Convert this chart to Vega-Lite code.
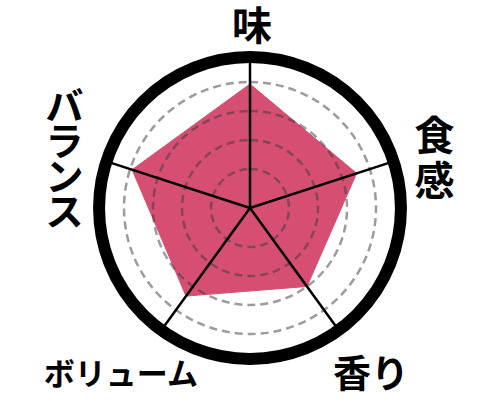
{
  "$schema": "https://vega.github.io/schema/vega-lite/v6.json",
  "width": 500,
  "height": 408,
  "autosize": {"type": "none"},
  "padding": 0,
  "background": "white",
  "datasets": {
    "scores": [
      {"axis": "味", "label": "味", "angle": 0, "score": 3.93},
      {"axis": "食感", "label": "食\n感", "angle": 72, "score": 3.52},
      {"axis": "香り", "label": "香り", "angle": 144, "score": 3.0},
      {"axis": "ボリューム", "label": "ボリューム", "angle": 216, "score": 3.41},
      {"axis": "バランス", "label": "バ\nラ\nン\nス", "angle": 288, "score": 3.93}
    ],
    "rings": [
      {"ring": "grid", "level": 1},
      {"ring": "grid", "level": 2},
      {"ring": "grid", "level": 3},
      {"ring": "grid", "level": 4},
      {"ring": "rim", "level": 4.86}
    ]
  },
  "data": {"name": "scores"},
  "transform": [
    {"calculate": "(10 + 29 * datum.score) * sin(datum.angle * PI / 180)", "as": "px"},
    {"calculate": "(10 + 29 * datum.score) * cos(datum.angle * PI / 180)", "as": "py"},
    {"calculate": "155 * sin(datum.angle * PI / 180)", "as": "ex"},
    {"calculate": "155 * cos(datum.angle * PI / 180)", "as": "ey"}
  ],
  "layer": [
    {
      "mark": {"type": "line", "interpolate": "linear-closed", "fill": "#d64f73", "stroke": "#d64f73", "strokeWidth": 1},
      "encoding": {
        "x": {"field": "px", "type": "quantitative", "scale": {"domain": [-250, 250], "nice": false, "zero": false}, "axis": null},
        "y": {"field": "py", "type": "quantitative", "scale": {"domain": [-200, 208], "nice": false, "zero": false}, "axis": null},
        "order": {"field": "angle", "type": "quantitative"}
      }
    },
    {
      "data": {"name": "rings"},
      "transform": [{"filter": "datum.ring == 'grid'"}],
      "mark": {"type": "arc", "filled": false, "stroke": "#3a3a3a", "strokeOpacity": 0.5, "strokeWidth": 2.5, "strokeDash": [8, 5]},
      "encoding": {
        "x": {"datum": 0, "type": "quantitative", "axis": null},
        "y": {"datum": 0, "type": "quantitative", "axis": null},
        "theta": {"value": 0},
        "theta2": {"value": 6.2832},
        "radius": {"field": "level", "type": "quantitative", "stack": null, "scale": {"type": "linear", "domain": [0, 5], "range": [10, 155], "zero": false, "nice": false}},
        "radius2": {"value": 0}
      }
    },
    {
      "mark": {"type": "rule", "color": "black", "strokeWidth": 2.5},
      "encoding": {
        "x": {"field": "ex", "type": "quantitative", "axis": null},
        "y": {"field": "ey", "type": "quantitative", "axis": null},
        "x2": {"datum": 0},
        "y2": {"datum": 0}
      }
    },
    {
      "data": {"name": "rings"},
      "transform": [{"filter": "datum.ring == 'rim'"}],
      "mark": {"type": "arc", "filled": false, "stroke": "black", "strokeWidth": 12},
      "encoding": {
        "x": {"datum": 0, "type": "quantitative", "axis": null},
        "y": {"datum": 0, "type": "quantitative", "axis": null},
        "theta": {"value": 0},
        "theta2": {"value": 6.2832},
        "radius": {"field": "level", "type": "quantitative", "stack": null, "scale": {"type": "linear", "domain": [0, 5], "range": [10, 155], "zero": false, "nice": false}},
        "radius2": {"value": 0}
      }
    },
    {
      "transform": [{"filter": "datum.axis == '味'"}],
      "mark": {"type": "text", "font": "Noto Sans CJK JP", "fontWeight": "bold", "fontSize": 40, "color": "black", "baseline": "middle", "dx": 2, "dy": -25},
      "encoding": {
        "x": {"field": "ex", "type": "quantitative", "axis": null},
        "y": {"field": "ey", "type": "quantitative", "axis": null},
        "text": {"field": "label"}
      }
    },
    {
      "transform": [{"filter": "datum.axis == '食感'"}],
      "mark": {"type": "text", "font": "Noto Sans CJK JP", "fontWeight": "bold", "fontSize": 40, "lineHeight": 45, "lineBreak": "\n", "color": "black", "baseline": "middle", "dx": 37, "dy": -22},
      "encoding": {
        "x": {"field": "ex", "type": "quantitative", "axis": null},
        "y": {"field": "ey", "type": "quantitative", "axis": null},
        "text": {"field": "label"}
      }
    },
    {
      "transform": [{"filter": "datum.axis == '香り'"}],
      "mark": {"type": "text", "font": "Noto Sans CJK JP", "fontWeight": "bold", "fontSize": 38, "color": "black", "baseline": "middle", "dx": 30, "dy": 43},
      "encoding": {
        "x": {"field": "ex", "type": "quantitative", "axis": null},
        "y": {"field": "ey", "type": "quantitative", "axis": null},
        "text": {"field": "label"}
      }
    },
    {
      "transform": [{"filter": "datum.axis == 'ボリューム'"}],
      "mark": {"type": "text", "font": "Noto Sans CJK JP", "fontWeight": "bold", "fontSize": 31, "color": "black", "baseline": "middle", "dx": -38, "dy": 43},
      "encoding": {
        "x": {"field": "ex", "type": "quantitative", "axis": null},
        "y": {"field": "ey", "type": "quantitative", "axis": null},
        "text": {"field": "label"}
      }
    },
    {
      "transform": [{"filter": "datum.axis == 'バランス'"}],
      "mark": {"type": "text", "font": "Noto Sans CJK JP", "fontWeight": "bold", "fontSize": 38, "lineHeight": 35, "lineBreak": "\n", "color": "black", "baseline": "middle", "dx": -38, "dy": -51},
      "encoding": {
        "x": {"field": "ex", "type": "quantitative", "axis": null},
        "y": {"field": "ey", "type": "quantitative", "axis": null},
        "text": {"field": "label"}
      }
    }
  ],
  "config": {"view": {"stroke": null}}
}
